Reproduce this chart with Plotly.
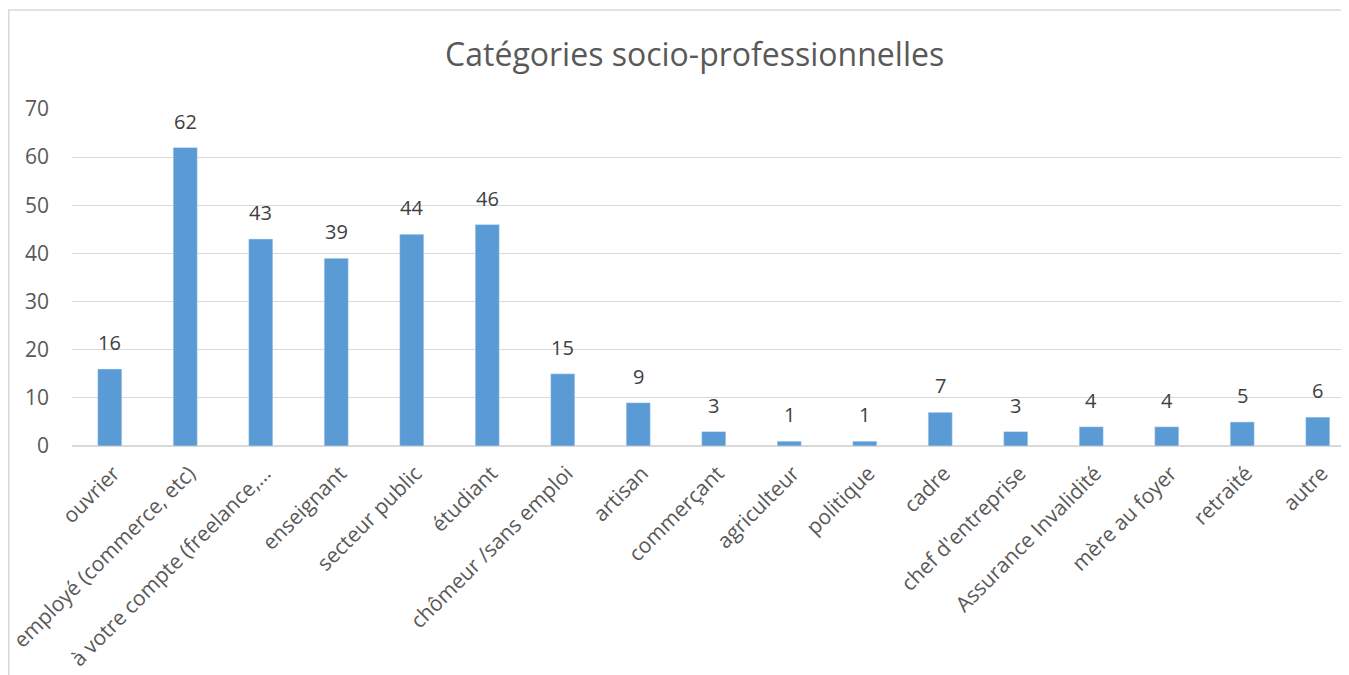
import plotly.graph_objects as go

categories = [
    "ouvrier", "employé (commerce, etc)", "à votre compte (freelance,…",
    "enseignant", "secteur public", "étudiant", "chômeur /sans emploi",
    "artisan", "commerçant", "agriculteur", "politique", "cadre",
    "chef d'entreprise", "Assurance Invalidité", "mère au foyer",
    "retraité", "autre",
]
counts = [16, 62, 43, 39, 44, 46, 15, 9, 3, 1, 1, 7, 3, 4, 4, 5, 6]

FONT = "Open Sans"
GRID = "#D9D9D9"

fig = go.Figure(go.Bar(x=categories, y=counts, marker_color="#5B9BD5", width=0.32))

# value labels sit a bit higher above the bars than plotly's "outside" text
for cat, val in zip(categories, counts):
    fig.add_annotation(x=cat, y=val, text=str(val), showarrow=False,
                       yanchor="bottom", yshift=11,
                       font=dict(size=20, color="#404040", family=FONT))

fig.update_layout(
    width=1349, height=675,
    margin=dict(l=64, r=0, t=101, b=237),
    plot_bgcolor="white", paper_bgcolor="white",
    showlegend=False,
    title=dict(text="Catégories socio-professionnelles", x=0.509, y=0.930,
               xanchor="center", yanchor="middle",
               font=dict(size=32, color="#595959", family=FONT)),
    xaxis=dict(range=[-0.5, 16.52], tickangle=-45, showgrid=False,
               showline=False, ticks="", ticklabelstandoff=10,
               ticklabelshift=4,
               tickfont=dict(size=21, color="#595959", family=FONT)),
    yaxis=dict(range=[0, 70], dtick=10, gridcolor=GRID, gridwidth=1,
               zeroline=True, zerolinecolor=GRID, zerolinewidth=1.5,
               showline=False, ticks="", ticklabelstandoff=22,
               tickfont=dict(size=21, color="#595959", family=FONT)),
    shapes=[dict(type="rect", xref="paper", yref="paper",
                 x0=-0.0492, x1=1.05, y0=-0.8, y1=1.2938,
                 line=dict(color=GRID, width=1.5), layer="below")],
)

fig.write_html("out.html")
